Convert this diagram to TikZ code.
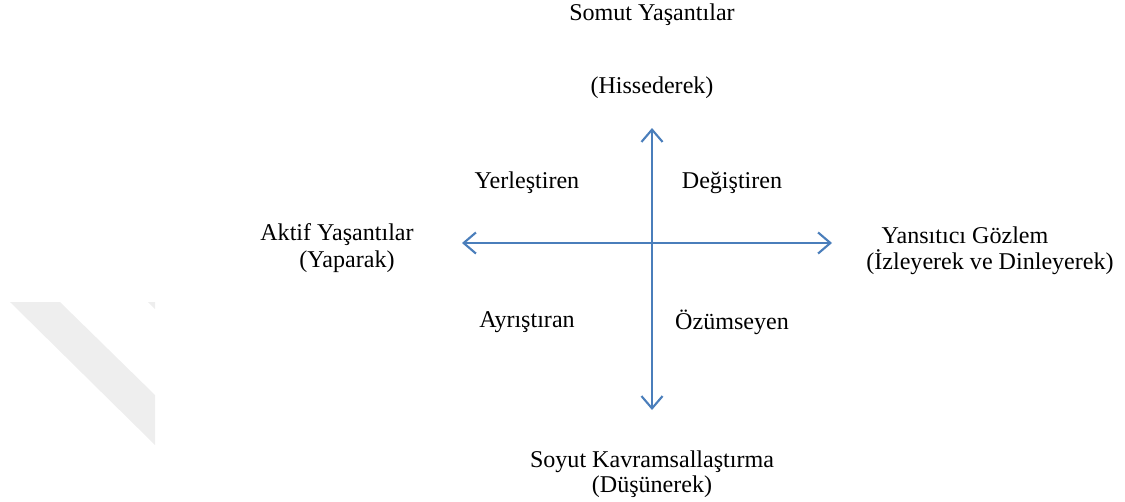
\documentclass[tikz,border=0pt]{standalone}
\usepackage{fontspec}
\setmainfont{Liberation Serif}
\usetikzlibrary{arrows.meta}

\definecolor{axisblue}{RGB}{74,126,187}
\definecolor{markgray}{RGB}{238,238,238}

\begin{document}
\begin{tikzpicture}[x=0.02cm, y=-0.02cm,
    lbl/.style={font=\fontsize{13.7}{15}\selectfont, inner sep=0pt},
    axis/.style={axisblue, line width=1.2pt,
        {Straight Barb[length=7pt, width=12pt, line width=1.2pt]}-{Straight Barb[length=7pt, width=12pt, line width=1.2pt]}}]
                    \useasboundingbox (0,0) rectangle (1125,501);

                    % faint band on the left
                    \fill[markgray] (10,302) -- (60,302) -- (155,395) -- (155,445) -- cycle;
                    \fill[markgray] (148,302) -- (155,302) -- (155,309) -- cycle;

                    \coordinate (top) at (652,128);
                    \coordinate (bottom) at (652,410);
                    \coordinate (left) at (462,243);
                    \coordinate (right) at (832,243);

                    \draw[axis] (top) -- (bottom);
                    \draw[axis] (left) -- (right);

                    \node [lbl] (somut)  at (652,15)  {Somut Yaşantılar};
                    \node [lbl] (hisse)  at (652,88)  {(Hissederek)};
                    \node [lbl] (yerle)  at (527,183) {Yerleştiren};
                    \node [lbl] (degis)  at (732,183) {Değiştiren};
                    \node [lbl] (aktif)  at (337,235) {Aktif Yaşantılar};
                    \node [lbl] (yapar)  at (347,262) {(Yaparak)};
                    \node [lbl] (yansi)  at (965,235) {Yansıtıcı Gözlem};
                    \node [lbl] (izley)  at (990,262) {(İzleyerek ve Dinleyerek)};
                    \node [lbl] (ayris)  at (527,322) {Ayrıştıran};
                    \node [lbl] (ozums)  at (732,322) {Özümseyen};
                    \node [lbl] (soyut)  at (652,462) {Soyut Kavramsallaştırma};
                    \node [lbl] (dusun)  at (652,487) {(Düşünerek)};
\end{tikzpicture}
\end{document}
